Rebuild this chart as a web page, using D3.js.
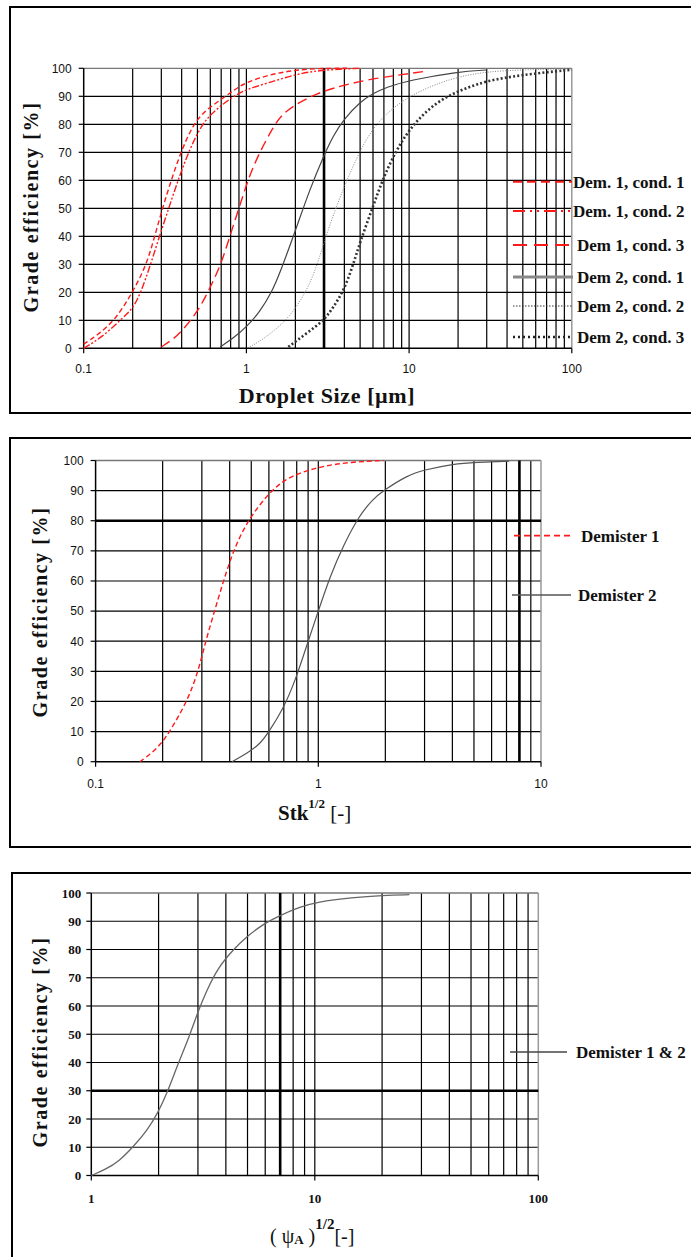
<!DOCTYPE html>
<html><head><meta charset="utf-8">
<script src="https://cdn.jsdelivr.net/npm/d3@7"></script>
<style>body{margin:0;background:#fff}svg{display:block}</style>
</head><body>
<svg id="c" width="691" height="1257"></svg>
<script>
// ---------- DATA ----------
// Panel 1: Droplet size [µm] vs grade efficiency [%]
const p1_dem1_c1_x = [0.1, 0.12, 0.156, 0.2, 0.244, 0.273, 0.305, 0.345, 0.395, 0.47, 0.56, 0.69, 0.85, 1.0, 1.4, 1.94, 2.8, 4.2];
const p1_dem1_c1_y = [1.5, 4.5, 10, 20, 30, 40, 50, 60, 70, 80, 85, 88.6, 92.5, 95, 97.8, 99.3, 100, 100];
const p1_dem1_c2_x = [0.1, 0.13, 0.167, 0.2, 0.225, 0.258, 0.292, 0.333, 0.38, 0.44, 0.53, 0.64, 0.83, 1.0, 1.4, 2.04, 3.0, 5.0];
const p1_dem1_c2_y = [0, 4, 10, 14, 20, 30, 40, 50, 60, 70, 80, 85, 90, 92.5, 95, 98, 99.5, 100];
const p1_dem1_c3_x = [0.3, 0.35, 0.4, 0.5, 0.58, 0.7, 0.79, 0.9, 1.02, 1.18, 1.46, 1.69, 2.46, 3.4, 5.5, 9.7, 12.8];
const p1_dem1_c3_y = [0.5, 3, 6, 13, 20, 30, 40, 50, 60, 69, 79, 84.5, 90, 93, 96, 98, 99];
const p1_dem2_c1_x = [0.69, 0.83, 1.0, 1.21, 1.43, 1.61, 2.0, 2.46, 3.0, 3.42, 4.0, 5.0, 6.0, 7.3, 10, 20, 30];
const p1_dem2_c1_y = [0.5, 3.6, 7.6, 13, 20, 27, 42, 57, 69, 76, 82, 88, 91, 93.3, 95.7, 98.8, 99.4];
const p1_dem2_c2_x = [1.05, 1.33, 1.85, 2.35, 2.7, 3.04, 3.59, 4.14, 4.99, 6.03, 7.63, 10, 14.1, 20, 30, 50, 100];
const p1_dem2_c2_y = [0.5, 4, 11, 20.6, 29, 39, 51, 60, 70.5, 79, 85, 90, 94, 97, 98.8, 99.5, 99.8];
const p1_dem2_c3_x = [1.81, 2.35, 3.0, 3.42, 4.0, 4.54, 5.0, 6.03, 6.95, 8.39, 10, 12.8, 17, 22.6, 30, 48, 100];
const p1_dem2_c3_y = [0.5, 5.4, 10, 14.6, 21, 30, 38, 51, 61, 71, 78, 85, 90, 93, 95.5, 97.6, 99.5];
const p1_labels = ["Dem. 1, cond. 1", "Dem. 1, cond. 2", "Dem 1, cond. 3", "Dem 2, cond. 1", "Dem 2, cond. 2", "Dem 2, cond. 3"];
const p1_refX = [3];
const p1_refY = [];

// Panel 2: Stk^1/2 vs grade efficiency
const p2_dem1_x = [0.158, 0.18, 0.2, 0.215, 0.258, 0.289, 0.312, 0.342, 0.375, 0.415, 0.48, 0.61, 0.75, 1.03, 1.4, 1.96];
const p2_dem1_y = [0, 3, 6.6, 10, 20, 30, 40, 50, 60, 70, 80, 90, 95, 98.1, 99.5, 100];
const p2_dem2_x = [0.41, 0.48, 0.55, 0.60, 0.69, 0.79, 0.90, 1.0, 1.13, 1.3, 1.52, 1.75, 1.96, 2.5, 3.0, 4.05, 5.1, 7.2];
const p2_dem2_y = [0, 2.8, 6, 10, 17, 27, 40, 50, 61.6, 72, 81.5, 87, 90, 95, 96.9, 98.9, 99.4, 99.8];
const p2_labels = ["Demister 1", "Demister 2"];
const p2_refX = [8];
const p2_refY = [80];

// Panel 3: (psi_A)^1/2 vs grade efficiency
const p3_x = [1, 1.156, 1.33, 1.55, 1.78, 1.98, 2.18, 2.45, 2.74, 3.0, 3.29, 3.68, 4.32, 4.94, 5.93, 7.0, 8.53, 10.2, 14.7, 20.2, 26.5];
const p3_y = [0, 2.1, 5, 10.4, 16, 22, 29, 39.8, 49, 58, 65.6, 73.5, 80, 84.5, 89.2, 92.1, 95, 96.8, 98.4, 99.2, 99.4];
const p3_labels = ["Demister 1 & 2"];
const p3_refX = [7];
const p3_refY = [30];

const yTickVals = [0, 10, 20, 30, 40, 50, 60, 70, 80, 90, 100];

// ---------- DRAW ----------
const svg = d3.select("#c");
const zip = (a, b) => a.map((v, i) => [v, b[i]]);
const SERIF = "'Liberation Serif','Times New Roman',serif";
const SANS = "'Liberation Sans',Arial,sans-serif";

function panel(o) {
  const g = svg.append("g");
  g.append("rect").attr("x", o.box[0]).attr("y", o.box[1])
    .attr("width", o.box[2] - o.box[0]).attr("height", o.box[3] - o.box[1])
    .attr("fill", "none").attr("stroke", "#000").attr("stroke-width", 2);
  const x = d3.scaleLog().domain(o.xDomain).range([o.x0, o.x1]);
  const y = d3.scaleLinear().domain([0, 100]).range([o.yB, o.yT]);
  const [d0, d1] = o.xDomain;
  const xt = x.ticks().filter(v => v > d0 * 1.0001 && v < d1 * 0.9999);
  const majors = x.ticks().filter(v => Math.abs(Math.log10(v) - Math.round(Math.log10(v))) < 1e-6);

  g.selectAll(null).data(yTickVals.filter(v => v > 0 && v < 100)).join("line")
    .attr("x1", o.x0).attr("x2", o.x1).attr("y1", d => y(d)).attr("y2", d => y(d))
    .attr("stroke", "#000").attr("stroke-width", 1.2);
  g.selectAll(null).data(xt).join("line")
    .attr("x1", d => x(d)).attr("x2", d => x(d)).attr("y1", o.yT).attr("y2", o.yB)
    .attr("stroke", "#000").attr("stroke-width", 1.2);
  g.append("line").attr("x1", o.x0).attr("x2", o.x1).attr("y1", y(100)).attr("y2", y(100))
    .attr("stroke", "#777").attr("stroke-width", 1.3);
  g.append("line").attr("x1", x(d1)).attr("x2", x(d1)).attr("y1", o.yT).attr("y2", o.yB)
    .attr("stroke", "#999").attr("stroke-width", 1.5);
  g.selectAll(null).data(o.refX).join("line")
    .attr("x1", d => x(d)).attr("x2", d => x(d)).attr("y1", o.yT).attr("y2", o.yB)
    .attr("stroke", "#000").attr("stroke-width", 2.6);
  g.selectAll(null).data(o.refY).join("line")
    .attr("x1", o.x0).attr("x2", o.x1).attr("y1", d => y(d)).attr("y2", d => y(d))
    .attr("stroke", "#000").attr("stroke-width", 2.6);
  g.append("line").attr("x1", o.x0).attr("x2", o.x0).attr("y1", o.yT).attr("y2", o.yB)
    .attr("stroke", "#000").attr("stroke-width", 1.5);
  g.append("line").attr("x1", o.x0).attr("x2", x(d1)).attr("y1", o.yB).attr("y2", o.yB)
    .attr("stroke", "#000").attr("stroke-width", 1.5);
  g.selectAll(null).data(yTickVals).join("line")
    .attr("x1", o.x0 - 5).attr("x2", o.x0).attr("y1", d => y(d)).attr("y2", d => y(d))
    .attr("stroke", "#000").attr("stroke-width", 1.2);
  g.selectAll(null).data(majors).join("line")
    .attr("x1", d => x(d)).attr("x2", d => x(d)).attr("y1", o.yB).attr("y2", o.yB + 5)
    .attr("stroke", "#000").attr("stroke-width", 1.2);
  g.selectAll(null).data(yTickVals).join("text")
    .attr("x", o.x0 - o.yLabGap).attr("y", d => y(d)).attr("dy", "0.36em")
    .attr("text-anchor", "end").style("font", o.tickFont).attr("fill", "#111")
    .text(d => d);
  g.selectAll(null).data(majors).join("text")
    .attr("x", d => x(d)).attr("y", o.xLabY)
    .attr("text-anchor", "middle").style("font", o.tickFont).attr("fill", "#111")
    .text(d => d >= 1 ? d3.format("d")(d) : String(d));
  g.append("text").attr("transform", `translate(${o.yTitle[0]},${o.yTitle[1]}) rotate(-90)`)
    .attr("text-anchor", "middle").attr("dy", "0.35em")
    .style("font", `bold 20px ${SERIF}`).style("letter-spacing", "1.6px").attr("fill", "#111")
    .text("Grade efficiency [%]");
  const line = d3.line().x(d => x(d[0])).y(d => y(d[1])).curve(d3.curveBasis);
  o.series.forEach(s => {
    g.append("path").datum(s.data).attr("d", line).attr("fill", "none")
      .attr("stroke", s.color).attr("stroke-width", s.width)
      .attr("stroke-dasharray", s.dash || null);
  });
  o.legend.forEach((l, i) => {
    const s = o.series[i];
    g.append("line").attr("x1", l.lx[0]).attr("x2", l.lx[1]).attr("y1", l.y).attr("y2", l.y)
      .attr("stroke", l.color || s.color).attr("stroke-width", l.width || s.width)
      .attr("stroke-dasharray", l.dash || s.dash || null);
    g.append("text").attr("x", l.tx).attr("y", l.y).attr("dy", "0.35em")
      .style("font", `bold 17px ${SERIF}`).attr("fill", "#111").text(l.text);
  });
  return g;
}

// Panel 1
const g1 = panel({
  box: [10, 7, 720, 413], xDomain: [0.1, 100], x0: 83.7, x1: 571.8, yT: 68.3, yB: 348.3,
  refX: p1_refX, refY: p1_refY, yLabGap: 12, xLabY: 373, tickFont: `12px ${SANS}`,
  yTitle: [31, 207],
  series: [
    { data: zip(p1_dem1_c1_x, p1_dem1_c1_y), color: "#ff1a1a", width: 1.4, dash: "5,3" },
    { data: zip(p1_dem1_c2_x, p1_dem1_c2_y), color: "#ff1a1a", width: 1.4, dash: "7,2,2,2,2,2" },
    { data: zip(p1_dem1_c3_x, p1_dem1_c3_y), color: "#ff1a1a", width: 1.4, dash: "10,5" },
    { data: zip(p1_dem2_c1_x, p1_dem2_c1_y), color: "#444", width: 1.2 },
    { data: zip(p1_dem2_c2_x, p1_dem2_c2_y), color: "#888", width: 1, dash: "1,1.5" },
    { data: zip(p1_dem2_c3_x, p1_dem2_c3_y), color: "#333", width: 2.6, dash: "2,2.2" }
  ],
  legend: [
    { y: 181.7, lx: [513, 572], tx: 573, text: p1_labels[0], width: 2, dash: "9,5" },
    { y: 211, lx: [513, 572], tx: 573, text: p1_labels[1], width: 2.2, dash: "12,5,2,5,2,5" },
    { y: 245, lx: [513, 572], tx: 577, text: p1_labels[2], width: 2, dash: "14,7" },
    { y: 277, lx: [513, 573], tx: 577, text: p1_labels[3], color: "#888", width: 3 },
    { y: 306, lx: [513, 573], tx: 577, text: p1_labels[4], color: "#333", width: 1, dash: "1.5,1.5" },
    { y: 337, lx: [513, 573], tx: 577, text: p1_labels[5], color: "#222", width: 2.6, dash: "2,3" }
  ]
});
g1.append("text").attr("x", 327).attr("y", 403).attr("text-anchor", "middle")
  .style("font", `bold 22px ${SERIF}`).style("letter-spacing", "0.6px").attr("fill", "#111")
  .text("Droplet Size [µm]");

// Panel 2
const g2 = panel({
  box: [10, 438, 720, 847], xDomain: [0.1, 10], x0: 95.6, x1: 541, yT: 460.5, yB: 761.7,
  refX: p2_refX, refY: p2_refY, yLabGap: 12, xLabY: 788, tickFont: `12px ${SANS}`,
  yTitle: [40, 612],
  series: [
    { data: zip(p2_dem1_x, p2_dem1_y), color: "#ff1a1a", width: 1.4, dash: "5,3" },
    { data: zip(p2_dem2_x, p2_dem2_y), color: "#555", width: 1.2 }
  ],
  legend: [
    { y: 535.7, lx: [514, 573], tx: 581, text: p2_labels[0], width: 1.8, dash: "6,4" },
    { y: 595, lx: [512, 571], tx: 578, text: p2_labels[1], color: "#555", width: 1.4 }
  ]
});
const t2 = g2.append("text").attr("x", 278).attr("y", 820).attr("fill", "#111");
t2.append("tspan").style("font", `bold 21px ${SERIF}`).text("Stk");
t2.append("tspan").style("font", `bold 13px ${SERIF}`).attr("dy", -12).text("1/2");
t2.append("tspan").style("font", `21px ${SERIF}`).attr("dy", 12).text(" [-]");

// Panel 3
const g3 = panel({
  box: [12, 873, 720, 1280], xDomain: [1, 100], x0: 91.3, x1: 538.3, yT: 893, yB: 1175.5,
  refX: p3_refX, refY: p3_refY, yLabGap: 10, xLabY: 1203, tickFont: `bold 13px ${SERIF}`,
  yTitle: [40, 1042],
  series: [
    { data: zip(p3_x, p3_y), color: "#666", width: 1.3 }
  ],
  legend: [
    { y: 1052, lx: [510, 567], tx: 576, text: p3_labels[0], color: "#444", width: 1.3 }
  ]
});
const t3 = g3.append("text").attr("x", 270).attr("y", 1243).attr("fill", "#111");
t3.append("tspan").style("font", `20px ${SERIF}`).text("( ψ");
t3.append("tspan").style("font", `bold 13px ${SERIF}`).attr("dy", 1).text("A");
t3.append("tspan").style("font", `20px ${SERIF}`).attr("dy", -1).text(" )");
t3.append("tspan").style("font", `bold 15px ${SERIF}`).attr("dy", -14).text("1/2");
t3.append("tspan").style("font", `20px ${SERIF}`).attr("dy", 14).text("[-]");
</script>
</body></html>
